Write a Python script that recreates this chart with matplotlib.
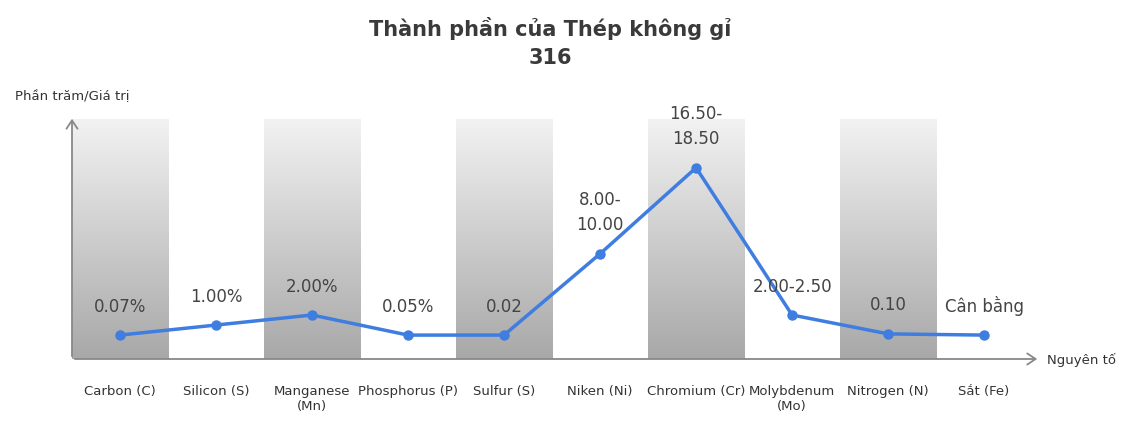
import matplotlib
matplotlib.use("Agg")
import matplotlib.pyplot as plt
import numpy as np

categories = ["Carbon (C)", "Silicon (S)", "Manganese\n(Mn)", "Phosphorus (P)", "Sulfur (S)",
              "Niken (Ni)", "Chromium (Cr)", "Molybdenum\n(Mo)", "Nitrogen (N)", "Sắt (Fe)"]
plot_values = [10, 14.2, 18.4, 10, 10, 44, 80, 18.4, 10.5, 10]
value_labels = ["0.07%", "1.00%", "2.00%", "0.05%", "0.02", "8.00-\n10.00", "16.50-\n18.50",
                "2.00-2.50", "0.10", "Cân bằng"]

fig = plt.figure(figsize=(11.28, 4.24), dpi=100)
ax = fig.add_axes([72/1128, 65/424, 963/1128, 241/424])
ax.set_xlim(-0.5, 9.53)
ax.set_ylim(0, 100.8)

grad = np.linspace(0, 1, 256).reshape(-1, 1)
from matplotlib.colors import LinearSegmentedColormap
cmap = LinearSegmentedColormap.from_list("g", ["#a8a8a8", "#f2f2f2"])
for i in range(0, len(categories), 2):
    ax.imshow(grad, extent=[i-0.5, i+0.5, 0, 100], origin="lower", cmap=cmap, aspect="auto", zorder=0)

x = np.arange(len(categories))
ax.plot(x, plot_values, color="#3f7de0", lw=2.5, marker="o", ms=6.5, zorder=3)
for xi, v, lab in zip(x, plot_values, value_labels):
    ax.annotate(lab, (xi, v), xytext=(0, 14), textcoords="offset points", ha="center", va="bottom",
                fontsize=12, color="#444444", linespacing=1.5, zorder=4)

ax.set_xticks(x)
ax.set_xticklabels(categories, fontsize=9.5, color="#333333", va="top")
ax.tick_params(axis="x", length=0, pad=19)
ax.set_yticks([])
for s in ax.spines.values():
    s.set_visible(False)

fig.patches.append(matplotlib.patches.FancyArrowPatch((72/1128, 65/424), (1040/1128, 65/424),
    transform=fig.transFigure, arrowstyle="->,head_length=6,head_width=4", color="#888888", lw=1.3))
fig.patches.append(matplotlib.patches.FancyArrowPatch((72/1128, 65/424), (72/1128, 308/424),
    transform=fig.transFigure, arrowstyle="->,head_length=6,head_width=4", color="#888888", lw=1.3))

fig.text(15/1128, 1-97/424, "Phần trăm/Giá trị", fontsize=9.5, color="#333333", va="center")
fig.text(1047/1128, 1-360/424, "Nguyên tố", fontsize=9.5, color="#333333", va="center")
fig.text(550/1128, 1-43/424, "Thành phần của Thép không gỉ\n316", fontsize=15, fontweight="bold",
         color="#3a3a3a", ha="center", va="center", linespacing=1.5)

fig.savefig("out.png", dpi=100)
